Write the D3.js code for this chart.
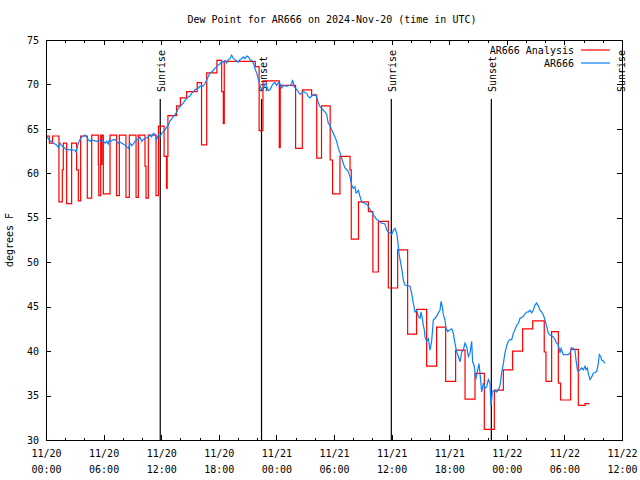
<!DOCTYPE html>
<html><head><meta charset="utf-8">
<script src="https://cdn.jsdelivr.net/npm/d3@7"></script>
<style>
html,body{margin:0;padding:0;background:#fff;}
svg text{font-family:"DejaVu Sans Mono","Liberation Mono",monospace;font-size:10px;fill:#000;}
</style></head>
<body><svg id="c" width="640" height="480"></svg>
<script>
// ---- data (hours after 2024-11-20 00:00 UTC) ----
const titleText = "Dew Point for AR666 on 2024-Nov-20 (time in UTC)";
const yLabel = "degrees F";
const seriesNames = ["AR666 Analysis", "AR666"];
const yTicks = [30,35,40,45,50,55,60,65,70,75];
const xMajorHours = [0,6,12,18,24,30,36,42,48,54,60];
const xMinorHours = [2,4,8,10,14,16,20,22,26,28,32,34,38,40,44,46,50,52,56,58];
const sunLabels = ["Sunrise","Sunset","Sunrise","Sunset","Sunrise"];
const sunHours = [11.9,22.45,35.97,46.39,59.8];

const analysisHours = [0,0.35,0.69,1.35,1.7,1.8,2.15,2.67,3.19,3.37,3.61,4.3,4.76,5.45,5.5,5.7,5.78,5.83,5.97,6.67,7.36,7.64,8.33,8.68,9.38,9.62,10.31,10.42,10.66,11.46,11.72,12.3,12.55,12.62,12.7,13.6,14.0,14.65,15.75,16.2,16.74,17.8,18.3,18.47,18.57,21.8,22.2,22.6,24.3,24.4,26.0,26.7,27.67,28.2,28.7,29.6,29.85,30.62,31.67,31.8,32.55,33.58,34.05,34.62,35.66,36.63,37.67,38.6,39.65,40.69,41.63,42.67,43.65,44.69,45.66,46.7,47.64,48.6,49.65,50.7,51.9,52.08,52.67,53.37,53.6,54.65,55.45,56.15,56.6];
const analysisValues = [64.2,63.4,64.2,56.8,60.4,63.4,56.6,63.4,60.4,56.9,64.2,57.2,64.3,61.0,57.5,64.3,61.0,64.3,57.7,64.3,57.5,64.3,57.3,64.3,57.3,64.3,60.8,57.2,64.3,57.5,65.3,61.9,58.3,61.9,66.5,67.6,68.5,69.2,70.2,63.2,71.3,72.7,69.2,65.6,72.6,72.0,64.8,70.4,62.9,69.9,62.8,69.4,68.8,61.7,67.6,61.5,57.7,61.9,60.4,52.6,56.8,55.7,48.9,54.6,47.1,51.4,41.9,44.7,38.3,42.7,36.6,40.1,34.6,37.5,31.2,35.6,37.9,40.0,42.5,43.4,39.9,36.6,42.2,36.4,34.5,40.2,33.9,34.1,34.1];

const obsHours = [0.07,0.24,0.42,0.76,1.1,1.28,1.46,1.63,1.8,2.08,3.02,3.13,3.19,3.37,3.54,3.72,3.9,4.06,4.24,4.41,4.58,4.76,4.93,5.28,5.63,5.97,6.15,6.32,6.49,6.6,6.74,7.01,7.19,7.36,7.53,7.71,8.23,8.4,8.58,8.75,8.92,9.1,9.27,9.44,9.62,9.79,9.97,10.14,10.31,10.49,10.66,10.83,11.0,11.18,11.35,11.53,11.7,11.88,12.05,12.22,12.4,12.57,12.74,12.92,13.09,13.26,13.44,13.61,13.78,13.96,14.13,14.3,14.48,14.65,14.83,15.0,15.17,15.35,15.52,15.69,15.87,16.04,16.39,16.56,16.74,16.91,17.08,17.26,17.43,17.6,17.78,17.95,18.13,18.3,18.47,18.65,18.82,18.99,19.17,19.34,19.51,19.69,19.86,20.03,20.21,20.38,20.56,20.73,20.9,21.08,21.25,21.42,21.6,21.77,21.94,22.12,22.29,22.47,22.64,22.81,22.99,23.16,23.33,23.51,23.68,23.85,24.03,24.2,24.38,24.55,24.72,25.07,25.42,25.59,25.69,25.83,26.04,26.28,26.46,26.63,26.8,27.15,27.33,27.5,27.67,27.85,28.02,28.19,28.37,28.54,28.72,28.89,29.06,29.24,29.41,29.58,29.76,29.93,30.1,30.28,30.45,30.63,30.8,30.97,31.15,31.32,31.49,31.67,31.84,32.01,32.19,32.29,32.43,32.53,32.71,32.88,33.23,33.4,33.58,33.75,33.92,34.1,34.27,34.44,34.62,34.79,34.97,35.31,35.5,35.66,35.83,36.0,36.18,36.35,36.53,36.63,36.77,36.88,37.05,37.22,37.4,37.92,38.09,38.26,38.44,38.61,38.78,38.96,39.06,39.2,39.3,39.41,39.48,39.65,39.83,40.0,40.17,40.35,40.52,40.69,40.87,41.04,41.15,41.28,41.39,41.56,41.67,41.84,42.08,42.26,42.43,42.6,42.78,42.95,43.13,43.3,43.47,43.65,43.82,43.99,44.17,44.34,44.44,44.62,44.76,44.97,45.1,45.21,45.38,45.56,45.73,45.9,46.08,46.25,46.35,46.49,46.7,46.94,47.12,47.29,47.46,47.64,47.81,47.99,48.16,48.33,48.51,48.68,48.85,49.03,49.2,49.38,49.72,49.9,50.07,50.24,50.42,50.59,50.76,50.94,51.11,51.28,51.46,51.63,51.8,51.98,52.15,52.33,52.5,52.85,53.02,53.19,53.37,53.54,53.65,53.78,53.89,54.41,54.58,54.76,54.93,55.1,55.21,55.35,55.45,55.63,55.8,55.97,56.15,56.25,56.39,56.49,56.67,56.84,57.01,57.36,57.53,57.64,57.78,57.88,58.06,58.23];
const obsValues = [64.2,63.9,63.7,63.4,63.2,62.9,63.4,63.1,63.0,62.7,62.6,62.4,62.7,63.4,63.8,64.1,64.2,64.3,64.1,63.8,63.6,63.8,63.7,63.6,63.7,63.6,63.4,63.6,63.3,63.8,63.6,63.8,63.8,63.6,63.4,63.5,63.2,63.0,62.8,63.4,63.1,63.3,63.6,63.8,63.8,64.1,63.6,63.8,63.9,64.0,64.1,64.3,64.1,64.5,64.4,63.8,64.3,64.1,64.5,64.7,64.9,65.2,65.4,65.9,66.1,66.4,66.6,66.9,67.3,67.5,67.7,67.9,68.2,68.4,68.6,68.7,69.0,69.2,69.4,69.5,69.6,69.8,69.8,70.1,70.5,70.9,71.3,71.4,71.6,71.8,72.0,72.2,72.3,72.6,72.5,72.7,72.4,72.8,72.9,73.3,72.9,72.8,72.6,72.5,72.8,72.9,73.1,72.9,73.2,73.1,72.8,72.7,72.4,71.8,71.3,70.6,69.9,69.4,69.6,70.1,69.8,69.3,69.4,69.8,70.1,70.2,69.9,70.2,70.1,69.6,69.9,69.8,69.9,70.1,70.5,69.8,69.5,69.2,68.9,69.0,69.2,69.0,68.6,68.5,68.7,68.8,68.9,68.6,67.9,67.5,67.3,67.1,66.9,66.6,65.6,65.4,64.9,64.5,64.1,63.6,62.8,62.3,61.7,61.1,60.6,60.4,60.2,59.6,58.7,58.3,58.5,57.8,57.9,58.1,57.4,56.8,56.6,56.5,56.3,55.9,55.7,55.3,55.1,54.8,54.7,54.5,54.4,54.3,53.6,53.4,53.3,53.1,53.6,53.8,53.3,52.5,51.0,50.3,49.3,48.0,47.4,47.3,46.5,45.4,44.4,44.6,43.9,43.7,44.4,43.7,42.9,42.4,41.6,41.1,41.4,40.1,41.1,43.5,43.7,43.9,44.3,44.6,45.6,45.0,44.1,43.5,42.6,42.2,42.4,42.5,42.0,40.9,39.9,39.4,38.8,39.9,40.1,40.9,40.5,39.4,39.8,41.1,38.8,38.3,36.8,37.9,38.6,37.5,35.4,36.4,35.8,36.0,36.8,36.4,33.8,35.4,35.6,35.4,35.6,36.1,37.5,38.6,39.8,40.6,41.1,41.3,41.3,42.0,42.4,42.9,43.1,43.7,43.9,44.2,44.4,44.4,44.6,44.3,44.6,45.2,45.4,45.1,44.6,44.4,44.1,43.5,42.8,42.0,41.8,41.6,41.3,40.9,40.7,39.8,40.3,39.9,39.6,39.6,39.8,40.4,40.3,40.1,39.0,37.9,37.7,37.9,38.1,37.9,38.3,37.9,38.1,37.5,36.8,37.1,37.5,37.7,38.6,39.6,39.4,39.0,38.9,38.6];

// ---- drawing ----
const startMs = Date.UTC(2024,10,20,0,0,0);
const toDate = h => new Date(startMs + h*3600e3);
const L = 46, R = 622, T = 40, B = 440;
const svg = d3.select("#c");
const x = d3.scaleUtc().domain([toDate(0), toDate(60)]).range([L, R]);
const y = d3.scaleLinear().domain([30, 75]).range([B, T]);
const fmtDay = d3.utcFormat("%m/%d"), fmtTime = d3.utcFormat("%H:%M");

svg.append("defs").append("clipPath").attr("id","clip")
  .append("rect").attr("x",L).attr("y",T).attr("width",R-L).attr("height",B-T);

// title & y label
svg.append("text").attr("x",332).attr("y",23).attr("text-anchor","middle").text(titleText);
svg.append("text").attr("transform","translate(13,240) rotate(-90)").attr("text-anchor","middle").text(yLabel);

// axes
const gB = svg.append("g").attr("transform",`translate(0,${B})`)
  .call(d3.axisBottom(x).tickValues(xMajorHours.map(toDate)).tickSize(-5).tickPadding(0).tickFormat(""));
gB.selectAll(".tick").each(function(d){
  const t = d3.select(this).append("text").attr("text-anchor","middle").attr("fill","#000");
  t.append("tspan").attr("x",0).attr("y",17).text(fmtDay(d));
  t.append("tspan").attr("x",0).attr("y",33).text(fmtTime(d));
});
svg.append("g").attr("transform",`translate(0,${B})`)
  .call(d3.axisBottom(x).tickValues(xMinorHours.map(toDate)).tickSize(-2.5).tickFormat(""));
svg.append("g").attr("transform",`translate(0,${T})`)
  .call(d3.axisTop(x).tickValues(xMajorHours.map(toDate)).tickSize(-5).tickFormat(""));
svg.append("g").attr("transform",`translate(0,${T})`)
  .call(d3.axisTop(x).tickValues(xMinorHours.map(toDate)).tickSize(-2.5).tickFormat(""));
svg.append("g").attr("transform",`translate(${L},0)`)
  .call(d3.axisLeft(y).tickValues(yTicks).tickSize(-5).tickPadding(7).tickFormat(d3.format("d")));
svg.append("g").attr("transform",`translate(${R},0)`)
  .call(d3.axisRight(y).tickValues(yTicks).tickSize(-5).tickFormat(""));
svg.selectAll(".domain").remove();
svg.selectAll(".tick line").attr("stroke","#000").attr("shape-rendering","crispEdges");
svg.selectAll(".tick text").attr("font-family",null).attr("font-size",null).attr("fill","#000");

// sunrise/sunset lines
const sunG = svg.append("g");
sunHours.forEach((h,i) => {
  const sx = x(toDate(h));
  if (i < sunHours.length-1) {
    sunG.append("line").attr("x1",sx).attr("x2",sx).attr("y1",99).attr("y2",B)
      .attr("stroke","#000").attr("stroke-width",1.2);
  }
  sunG.append("text").attr("transform",`translate(${sx+5},92) rotate(-90)`)
    .attr("text-anchor","start").text(sunLabels[i]);
});

// series
const plot = svg.append("g").attr("clip-path","url(#clip)");
const redData = analysisHours.map((h,i)=>[toDate(h), analysisValues[i]]);
const blueData = obsHours.map((h,i)=>[toDate(h), obsValues[i]]);
plot.append("path").datum(redData)
  .attr("d", d3.line().x(d=>x(d[0])).y(d=>y(d[1])).curve(d3.curveStepAfter))
  .attr("fill","none").attr("stroke","#ff0000").attr("stroke-width",1.2);
plot.append("path").datum(blueData)
  .attr("d", d3.line().x(d=>x(d[0])).y(d=>y(d[1])))
  .attr("fill","none").attr("stroke","#0a80ff").attr("stroke-width",1.2);

// border
svg.append("rect").attr("x",L).attr("y",T).attr("width",R-L).attr("height",B-T)
  .attr("fill","none").attr("stroke","#000").attr("stroke-width",1).attr("shape-rendering","crispEdges");

// legend
const legColors = ["#ff0000","#0a80ff"];
seriesNames.forEach((n,i)=>{
  const ly = 50 + i*13;
  svg.append("text").attr("x",574).attr("y",ly+4).attr("text-anchor","end").text(n);
  svg.append("line").attr("x1",581).attr("x2",610).attr("y1",ly).attr("y2",ly)
    .attr("stroke",legColors[i]).attr("stroke-width",1.2);
});
</script></body></html>
